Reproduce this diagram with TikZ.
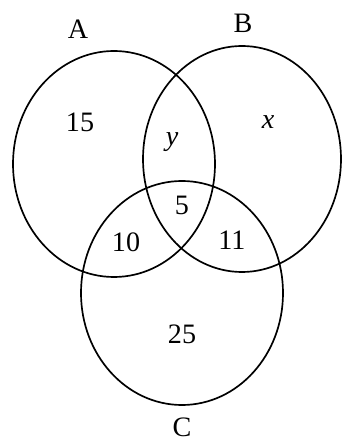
\documentclass[tikz,border=0pt]{standalone}
\usepackage{fontspec}
\setmainfont{Liberation Serif}
\begin{document}
\begin{tikzpicture}[every node/.style={font=\fontsize{20}{24}\selectfont}]
  \useasboundingbox (0,0) rectangle (8.6,11.025);
  \draw[line width=1.2pt] (2.85,6.925) ellipse [x radius=2.525, y radius=2.825];
  \draw[line width=1.2pt] (6.05,7.05) ellipse [x radius=2.475, y radius=2.825];
  \draw[line width=1.2pt] (4.55,3.7) ellipse [x radius=2.525, y radius=2.8];
  \node (setA) at (1.95,10.3) {A};
  \node (setB) at (6.075,10.45) {B};
  \node (setC) at (4.55,0.35) {C};
  \node (onlyA) at (2.0,7.975) {15};
  \node (AB) at (4.3,7.475) {\textit{y}};
  \node (onlyB) at (6.7,7.975) {\textit{x}};
  \node (ABC) at (4.55,5.9) {5};
  \node (AC) at (3.15,4.975) {10};
  \node (BC) at (5.8,5.025) {11};
  \node (onlyC) at (4.55,2.675) {25};
\end{tikzpicture}
\end{document}
